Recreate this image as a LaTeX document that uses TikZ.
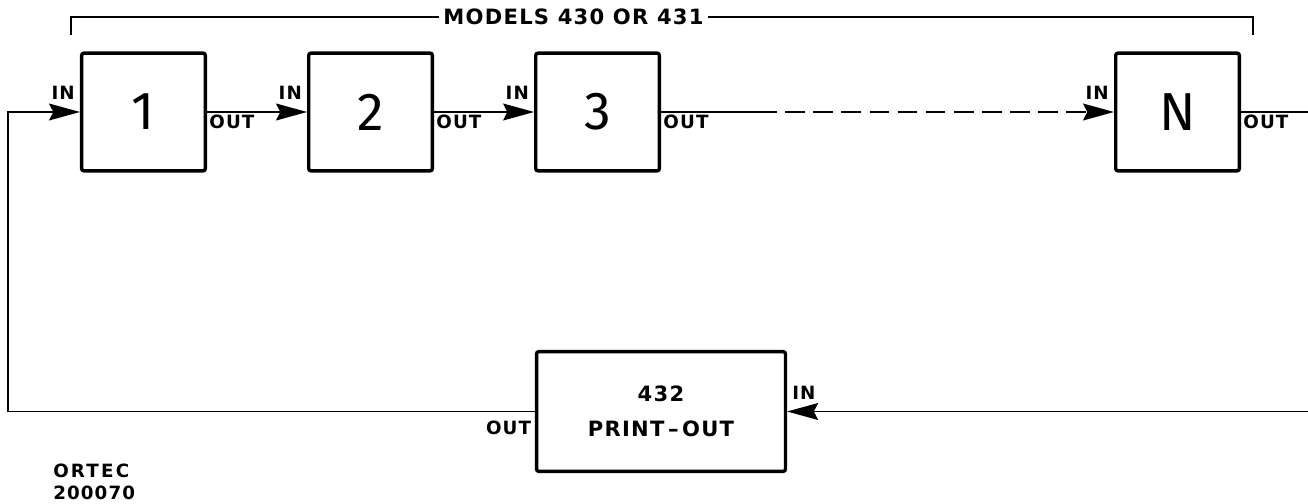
\documentclass[tikz,border=0pt]{standalone}
\usepackage{fontspec}
\newfontfamily\digitfont{Fira Sans}
\newfontfamily\lblfont[LetterSpace=6]{DejaVu Sans}
\newfontfamily\wideletters[LetterSpace=12]{DejaVu Sans}
\usepackage{tikz}
\usetikzlibrary{arrows.meta,positioning}

\begin{document}
\begin{tikzpicture}[
    x=0.025cm, y=-0.025cm,
    node distance=2.5cm,
    unit/.style={rectangle, draw, line width=2.4pt, rounded corners=1.5pt, minimum width=3.09cm, minimum height=2.94cm, inner sep=0pt, font=\digitfont\fontsize{38}{40}\selectfont},
    printer/.style={rectangle, draw, line width=2.4pt, rounded corners=1.5pt, minimum width=6.22cm, minimum height=2.99cm, align=center, font=\lblfont\bfseries\fontsize{15}{18}\selectfont},
    port/.style={inner sep=0.5pt, font=\lblfont\bfseries\fontsize{13}{14}\selectfont},
    title/.style={inner xsep=3pt, font=\lblfont\bfseries\fontsize{15}{16}\selectfont},
    maker/.style={inner sep=0pt, align=left, font=\bfseries\fontsize{13}{15.6}\selectfont},
    wire/.style={line width=1.2pt},
    arrow/.style={wire, -{Stealth[length=22pt, width=12pt, inset=3pt]}}
]
\useasboundingbox (0,0) rectangle (1308,504);

\node[unit] (u1) at (143.5,112) {1};
\node[unit, right=of u1] (u2) {2};
\node[unit, right=of u2] (u3) {3};
\node[unit] (uN) at (1177.5,112) {N};
\node[printer] (pr) at (661,411.5) {432\\[6.5pt]PRINT\,–\,OUT};

\node[title] (models) at (573.5,17) {MODELS 430 OR 431};
\coordinate (brl) at (71,35);
\coordinate (brr) at (1253,35);
\draw[line width=1pt] (models.west) -| (brl);
\draw[line width=1pt] (models.east) -| (brr);

\coordinate (dashstart) at (757,112);
\coordinate (loop) at (8,300);
\coordinate (rt) at (1308,112);
\coordinate (rb) at (1308,411.5);

\draw[arrow] (pr.west) -| (loop) |- (u1.west);
\draw[arrow] (u1) -- (u2);
\draw[arrow] (u2) -- (u3);
\draw[wire] (u3.east) -- (dashstart);
\draw[arrow, dash pattern=on 14pt off 6pt] (dashstart) -- (uN.west);
\draw[wire] (uN.east) -- (rt);
\draw[arrow] (rb) -- (pr.east);

\node[port, anchor=south east] (in1) at ([xshift=-3pt,yshift=8pt]u1.west) {IN};
\node[port, anchor=south east] (in2) at ([xshift=-3pt,yshift=8pt]u2.west) {IN};
\node[port, anchor=south east] (in3) at ([xshift=-3pt,yshift=8pt]u3.west) {IN};
\node[port, anchor=south east] (inN) at ([xshift=-3pt,yshift=8pt]uN.west) {IN};
\node[port, anchor=north west] (out1) at ([xshift=1pt,yshift=-1.5pt]u1.east) {OUT};
\node[port, anchor=north west] (out2) at ([xshift=1pt,yshift=-1.5pt]u2.east) {OUT};
\node[port, anchor=north west] (out3) at ([xshift=1pt,yshift=-1.5pt]u3.east) {OUT};
\node[port, anchor=north west] (outN) at ([xshift=1pt,yshift=-1.5pt]uN.east) {OUT};
\node[port, anchor=south west] (inP) at ([xshift=3pt,yshift=8pt]pr.east) {IN};
\node[port, anchor=north east] (outP) at ([xshift=-2pt,yshift=-6pt]pr.west) {OUT};

\node[maker, anchor=north west] (ortec) at (53,464) {{\wideletters ORTEC}\\{\lblfont 200070}};
\end{tikzpicture}
\end{document}
